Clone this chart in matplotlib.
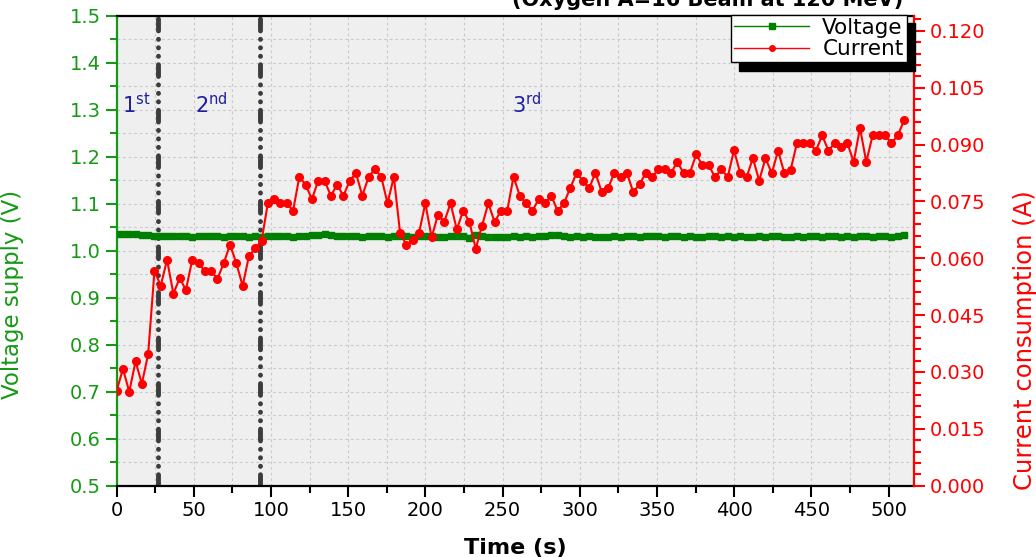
import numpy as np
import matplotlib
matplotlib.use('Agg')
import matplotlib.pyplot as plt
from matplotlib.lines import Line2D

# readings taken every ~4 s during the run
n_samples  = 126
dt         = 4.08
time_s     = np.arange(n_samples) * dt

current_a = [0.0251, 0.0308, 0.0248, 0.0328, 0.0269, 0.0347, 0.0566, 0.0528, 0.0596, 0.0507,
             0.0547, 0.0517, 0.0596, 0.0587, 0.0566, 0.0566, 0.0546, 0.0587, 0.0636, 0.0587,
             0.0527, 0.0606, 0.0626, 0.0646, 0.0745,
             0.0756, 0.0745, 0.0745, 0.0725, 0.0815, 0.0794, 0.0756, 0.0805, 0.0805, 0.0765,
             0.0794, 0.0765, 0.0805, 0.0824, 0.0765, 0.0815, 0.0835, 0.0815, 0.0745, 0.0815,
             0.0666, 0.0636, 0.0648, 0.0667, 0.0745,
             0.0655, 0.0715, 0.0696, 0.0745, 0.0676, 0.0725, 0.0696, 0.0625, 0.0686, 0.0745,
             0.0696, 0.0725, 0.0725, 0.0815, 0.0765, 0.0745, 0.0725, 0.0756, 0.0745, 0.0765,
             0.0725, 0.0745, 0.0785, 0.0825, 0.0805,
             0.0785, 0.0825, 0.0775, 0.0785, 0.0825, 0.0814, 0.0825, 0.0775, 0.0795, 0.0825,
             0.0814, 0.0835, 0.0835, 0.0825, 0.0854, 0.0825, 0.0825, 0.0874, 0.0845, 0.0845,
             0.0814, 0.0835, 0.0814, 0.0885, 0.0824,
             0.0814, 0.0864, 0.0805, 0.0864, 0.0824, 0.0884, 0.0824, 0.0834, 0.0904, 0.0904,
             0.0904, 0.0884, 0.0924, 0.0884, 0.0904, 0.0894, 0.0904, 0.0854, 0.0944, 0.0854,
             0.0924, 0.0924, 0.0924, 0.0904, 0.0924, 0.0964]

voltage_v = [1.036, 1.036, 1.035, 1.035, 1.034, 1.033,
             1.032, 1.031, 1.031, 1.032, 1.031, 1.032, 1.030, 1.031, 1.032, 1.031,
             1.031, 1.030, 1.031, 1.032, 1.031, 1.030, 1.031, 1.030, 1.031,
             1.032, 1.031, 1.031, 1.030, 1.031, 1.032, 1.033, 1.034, 1.035, 1.034,
             1.032, 1.031, 1.032, 1.031, 1.030, 1.031, 1.032, 1.031, 1.030, 1.031,
             1.032, 1.031, 1.030, 1.031,
             1.032, 1.031, 1.029, 1.030, 1.031, 1.032, 1.031, 1.028, 1.033, 1.031,
             1.030, 1.029, 1.029, 1.030, 1.031, 1.030, 1.031, 1.029, 1.031, 1.032,
             1.033, 1.034, 1.031, 1.030,
             1.031, 1.030, 1.031, 1.030, 1.029, 1.030, 1.031, 1.030, 1.031, 1.031,
             1.029, 1.031, 1.032, 1.031, 1.030, 1.031, 1.031, 1.030, 1.031, 1.029,
             1.030, 1.031, 1.031, 1.030, 1.031, 1.030, 1.031,
             1.030, 1.029, 1.031, 1.030, 1.031, 1.031, 1.029, 1.030, 1.031, 1.030,
             1.031, 1.031, 1.030, 1.031, 1.032, 1.030, 1.031, 1.030, 1.031, 1.031,
             1.030, 1.031, 1.031, 1.029, 1.031, 1.034]

phase_bounds = [27, 93]
phase_labels = [r'$\mathregular{1^{st}}$', r'$\mathregular{2^{nd}}$', r'$\mathregular{3^{rd}}$']
phase_label_x = [3.5, 50.7, 256]

GREEN  = '#008000'
LGREEN = '#159a15'
RED    = '#ff0000'
NAVY   = '#1f1fa3'

plt.rcParams['font.family'] = ['DejaVu Sans']
plt.rcParams['lines.scale_dashes'] = False

fig = plt.figure(figsize=(10.36, 5.57), dpi=100)
ax1 = fig.add_axes([0.1126, 0.128, 0.7696, 0.8438])
ax2 = ax1.twinx()

ax1.set_facecolor('#efefef')
ax1.set_axisbelow(True)

# phase boundaries (dash-dot-dot-dot)
for xb in phase_bounds:
    ax1.axvline(xb, color='#3c3c3c', lw=3.5, dash_capstyle='round',
                linestyle=(0, (8.5, 6.0, 0.1, 6.0, 0.1, 6.0, 0.1, 6.0)), zorder=1)

v_line, = ax1.plot(time_s, voltage_v, color=GREEN, lw=3.5, marker='s', ms=4.5,
                   mec=GREEN, mfc=GREEN, zorder=3)
c_line, = ax2.plot(time_s, current_a, color=RED, lw=1.5, marker='o', ms=5.5,
                   mec=RED, mfc=RED, zorder=3)

for lbl, xl in zip(phase_labels, phase_label_x):
    ax1.text(xl, 1.293, lbl, color=NAVY, fontsize=15, ha='left', va='baseline')

ax1.set_xlim(0, 516.4)
ax1.set_ylim(0.5, 1.5)
ax2.set_ylim(0.0, 0.124)

ax1.set_xticks(np.arange(0, 501, 50))
ax1.set_xticks(np.arange(25, 516, 50), minor=True)
ax1.set_yticks(np.arange(0.5, 1.51, 0.1))
ax1.set_yticks(np.arange(0.55, 1.5, 0.1), minor=True)
ax1.yaxis.set_major_formatter(matplotlib.ticker.FormatStrFormatter('%.1f'))
ax2.set_yticks(np.arange(0.0, 0.1201, 0.015))
ax2.set_yticks(np.arange(0.0, 0.124, 0.003), minor=True)
ax2.yaxis.set_major_formatter(matplotlib.ticker.FormatStrFormatter('%.3f'))

ax1.grid(True, which='both', linestyle=(0, (2, 2)), color='#cacaca', lw=0.8)

ax1.tick_params(axis='x', which='major', direction='out', length=8, width=1.5,
                color='black', labelsize=14, pad=3)
ax1.tick_params(axis='x', which='minor', direction='out', length=5, width=1.5, color='black')
ax1.tick_params(axis='y', which='major', direction='out', length=8, width=1.5,
                color=LGREEN, labelcolor=LGREEN, labelsize=14)
ax1.tick_params(axis='y', which='minor', direction='out', length=5, width=1.5, color=LGREEN)
ax2.tick_params(axis='y', which='major', direction='out', length=8, width=1.5,
                color=RED, labelcolor=RED, labelsize=14)
ax2.tick_params(axis='y', which='minor', direction='out', length=5, width=1.5, color=RED)

ax1.spines['left'].set_color(LGREEN)
ax1.spines['right'].set_visible(False)
for s in ['left', 'bottom', 'top']:
    ax1.spines[s].set_linewidth(1.6)
ax2.spines['right'].set_color(RED)
ax2.spines['right'].set_linewidth(1.6)
for s in ['left', 'bottom', 'top']:
    ax2.spines[s].set_visible(False)

ax1.set_xlabel('Time (s)', fontsize=16, fontweight='bold')
ax1.xaxis.set_label_coords(0.5, -0.112)
ax1.set_ylabel('Voltage supply (V)', fontsize=16.5, color=LGREEN)
ax1.yaxis.set_label_coords(-0.116, 0.408)
ax2.set_ylabel('Current consumption (A)', fontsize=17.5, color=RED)
ax2.yaxis.set_label_coords(1.124, 0.31)

handles = [Line2D([], [], color=GREEN, lw=1, marker='s', ms=4),
           Line2D([], [], color=RED, lw=1, marker='o', ms=4)]
leg = ax2.legend(handles, ['Voltage', 'Current'], loc='upper right',
                 bbox_to_anchor=(0.991, 1.002), borderaxespad=0, fontsize=15.5,
                 fancybox=False, edgecolor='black', framealpha=1,
                 handlelength=3.5, handletextpad=0.6, labelspacing=0.05,
                 borderpad=0.15,
                 shadow={'color': 'black', 'alpha': 1, 'ox': 6, 'oy': -6})
leg.get_frame().set_linewidth(1.0)
leg.set_zorder(10)

fig.text(0.683, 1 - 5.5 / 557, '(Oxygen A=16 Beam at 120 MeV)', fontsize=15,
         fontweight='bold', ha='center', va='baseline')

fig.savefig('out.png', dpi=100)
